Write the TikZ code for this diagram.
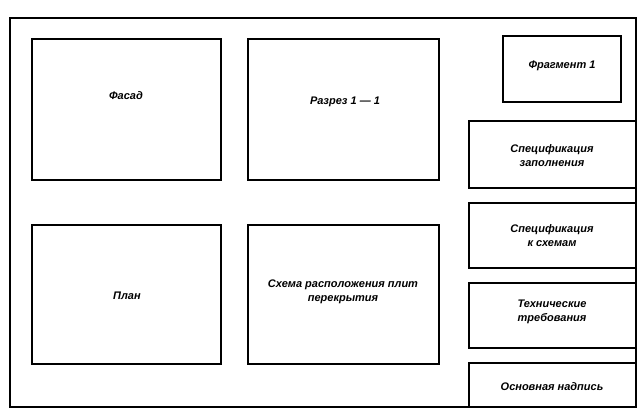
\documentclass[tikz,border=0pt]{standalone}
\usepackage{fontspec}
\setmainfont{Liberation Sans}
\begin{document}
\begin{tikzpicture}[x=1pt,y=-1pt,
  box/.style={draw,line width=1.2pt},
  lbl/.style={font=\fontsize{11}{14}\selectfont\bfseries\itshape,align=center,inner sep=0pt}]
\useasboundingbox (0,0) rectangle (642,413);
\draw[box] (10,18) rectangle (636,407);
\draw[box] (32,39) rectangle (221,180);
\draw[box] (248,39) rectangle (439,180);
\draw[box] (503,36) rectangle (621,102);
\draw[box] (469,121) rectangle (636,188);
\draw[box] (469,203) rectangle (636,268);
\draw[box] (469,283) rectangle (636,348);
\draw[box] (469,363) rectangle (636,407);
\draw[box] (32,225) rectangle (221,364);
\draw[box] (248,225) rectangle (439,364);
\node[lbl] (t1) at (126,96) {Фасад};
\node[lbl] (t2) at (345,102) {Разрез 1 — 1};
\node[lbl] (t3) at (562,66) {Фрагмент 1};
\node[lbl] (t4) at (552,156) {Спецификация\\заполнения};
\node[lbl] (t5) at (552,236) {Спецификация\\к схемам};
\node[lbl] (t6) at (552,312) {Технические\\требования};
\node[lbl] (t7) at (552,387) {Основная надпись};
\node[lbl] (t8) at (127,296) {План};
\node[lbl] (t9) at (343,292) {Схема расположения плит\\перекрытия};
\end{tikzpicture}
\end{document}
